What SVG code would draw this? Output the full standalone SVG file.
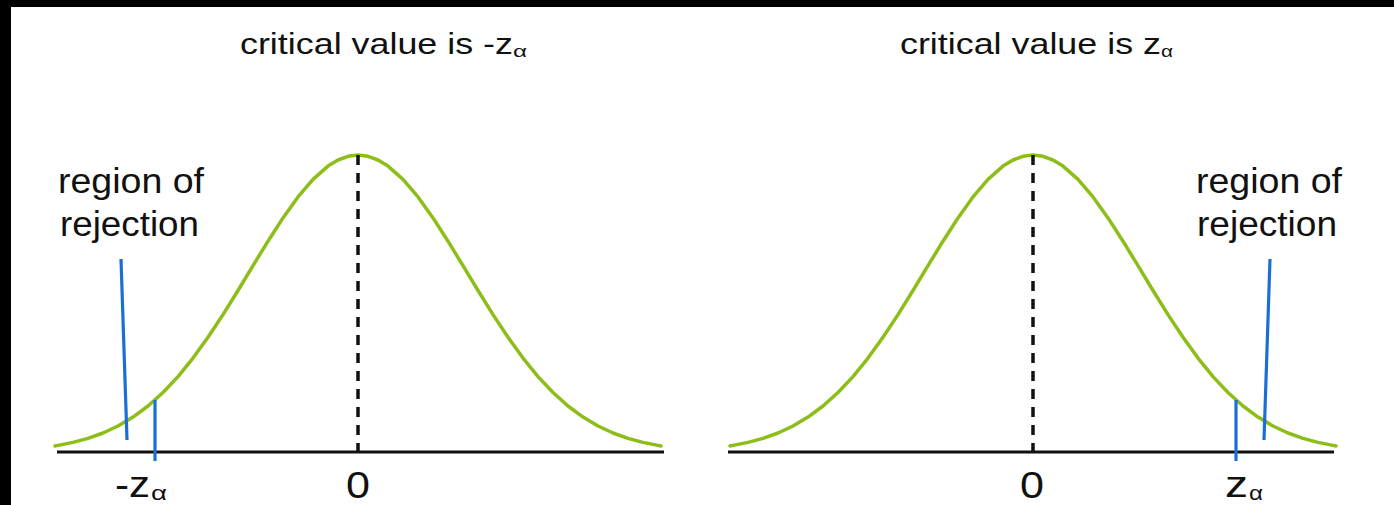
<svg xmlns="http://www.w3.org/2000/svg" width="1394" height="505" viewBox="0 0 1394 505">
<style>
text{font-family:"Liberation Sans",Arial,sans-serif;fill:#111}
.t{font-size:30px}
.l{font-size:35px}
.ax{font-size:37px}
.sub{font-size:20px}
.tsub{font-size:17px}
.curve{fill:none;stroke:#8dbd18;stroke-width:3.5;stroke-linejoin:round;stroke-linecap:round}
.axis{stroke:#111;stroke-width:3}
.dash{stroke:#111;stroke-width:3.5;stroke-dasharray:10 8}
.blue{stroke:#1a6fd4;stroke-width:3.2}
</style>
<defs>
<path id="bell" class="curve" d="M-303,446 L-300,445.4 L-285,442.4 L-270,438.4 L-255,433 L-240,426 L-225,417.1 L-210,406 L-195,392.5 L-180,376.6 L-165,358.1 L-150,337.3 L-135,314.6 L-120,290.5 L-105,265.7 L-90,241.2 L-75,217.9 L-60,196.9 L-45,179.4 L-30,166.1 L-20,160 L-10,156.3 L0,155 L10,156.3 L20,160 L30,166.1 L45,179.4 L60,196.9 L75,217.9 L90,241.2 L105,265.7 L120,290.5 L135,314.6 L150,337.3 L165,358.1 L180,376.6 L195,392.5 L210,406 L225,417.1 L240,426 L255,433 L270,438.4 L285,442.4 L300,445.4 L303,446"/>
</defs>
<rect x="0" y="0" width="1394" height="505" fill="#fff"/>
<rect x="0" y="0" width="1394" height="7" fill="#000"/>
<rect x="0" y="0" width="11" height="505" fill="#000"/>

<g id="left-chart">
<use href="#bell" transform="translate(358,0)"/>
<line class="axis" x1="57" y1="452" x2="664" y2="452"/>
<line class="dash" x1="358" y1="155" x2="358" y2="452"/>
</g>
<g id="right-chart">
<use href="#bell" transform="translate(1033,0)"/>
<line class="axis" x1="728" y1="452" x2="1334" y2="452"/>
<line class="dash" x1="1033" y1="155" x2="1033" y2="452"/>
</g>

<g id="connectors">
<line class="blue" x1="155" y1="400" x2="155" y2="461"/>
<line class="blue" x1="121" y1="259" x2="127" y2="440"/>
<line class="blue" x1="1236" y1="400" x2="1236" y2="461"/>
<line class="blue" x1="1270" y1="259" x2="1264" y2="440"/>
</g>

<g id="left-title">
<text class="t" x="240" y="54" textLength="273" lengthAdjust="spacingAndGlyphs">critical value is -z</text>
<text class="tsub" x="513" y="57" textLength="14" lengthAdjust="spacingAndGlyphs">α</text>
</g>
<g id="right-title">
<text class="t" x="900" y="54" textLength="261" lengthAdjust="spacingAndGlyphs">critical value is z</text>
<text class="tsub" x="1161" y="57" textLength="12" lengthAdjust="spacingAndGlyphs">α</text>
</g>

<g id="left-region-label">
<text class="l" x="58" y="193" textLength="146" lengthAdjust="spacingAndGlyphs">region of</text>
<text class="l" x="60" y="236" textLength="139" lengthAdjust="spacingAndGlyphs">rejection</text>
</g>
<g id="right-region-label">
<text class="l" x="1196" y="193" textLength="146" lengthAdjust="spacingAndGlyphs">region of</text>
<text class="l" x="1197" y="236" textLength="140" lengthAdjust="spacingAndGlyphs">rejection</text>
</g>

<g id="left-axis-labels">
<text class="ax" x="115" y="497" textLength="35" lengthAdjust="spacingAndGlyphs">-z</text>
<text class="sub" x="151" y="500" textLength="16" lengthAdjust="spacingAndGlyphs">α</text>
<text class="ax" x="346" y="498" textLength="24" lengthAdjust="spacingAndGlyphs">0</text>
</g>
<g id="right-axis-labels">
<text class="ax" x="1020" y="498" textLength="24" lengthAdjust="spacingAndGlyphs">0</text>
<text class="ax" x="1225" y="497" textLength="23" lengthAdjust="spacingAndGlyphs">z</text>
<text class="sub" x="1249" y="500" textLength="14" lengthAdjust="spacingAndGlyphs">α</text>
</g>
</svg>
